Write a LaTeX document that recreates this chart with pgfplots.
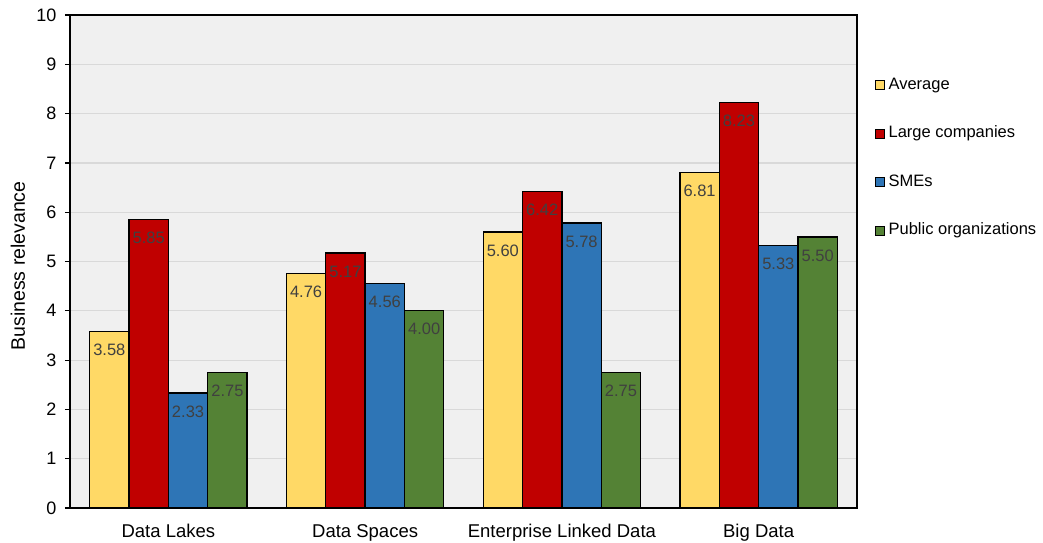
\documentclass[border=0pt]{standalone}
\usepackage{fontspec}
\setmainfont{Liberation Sans}
\usepackage{pgfplots}
\pgfplotsset{compat=1.18}

\definecolor{cAvg}{HTML}{FFD966}
\definecolor{cLarge}{HTML}{C00000}
\definecolor{cSME}{HTML}{2E75B6}
\definecolor{cPub}{HTML}{548235}
\definecolor{plotbg}{HTML}{F0F0F0}
\definecolor{gridgray}{HTML}{D9D9D9}
\definecolor{valgray}{HTML}{404040}

\pgfplotsset{
  relbar/.style={
    fill=#1, draw=black, line width=1.3pt,
    legend image code/.code={%
      \path[draw=none,fill=none] (0pt,0pt) -- (11pt,0pt);
      \draw[fill=#1,draw=black,line width=0.8pt] (0pt,-4.5pt) rectangle (9pt,4.5pt);}
  }
}

\begin{document}
\begin{tikzpicture}[font=\fontsize{16.5}{19.8}\selectfont]
\path[use as bounding box] (0,0) rectangle (1043pt,542pt);
\begin{axis}[
  at={(70pt,34pt)}, anchor=south west,
  scale only axis, width=787pt, height=493pt,
  ybar=0pt, bar width=0.2,
  xmin=-0.5, xmax=3.5, ymin=0, ymax=10,
  xtick={0,1,2,3},
  xticklabels={Data Lakes, Data Spaces, Enterprise Linked Data, Big Data},
  ytick={0,1,...,10},
  ytick pos=left, tick align=outside, major tick length=5pt,
  xtick style={draw=none},
  ytick style={line width=1.2pt, black},
  axis line style={line width=1.2pt, black},
  axis background/.style={fill=plotbg},
  ymajorgrids, grid style={gridgray, line width=1.2pt},
  /pgf/number format/assume math mode=true,
  xticklabel style={font=\fontsize{18.5}{22}\selectfont, yshift=-8pt},
  yticklabel style={font=\fontsize{18}{21.6}\selectfont, xshift=-5pt},
  ylabel={Business relevance},
  every axis y label/.style={at={(axis description cs:-0.0661,0.491)}, rotate=90, anchor=center,
    font=\fontsize{19.5}{23.4}\selectfont},
  nodes near coords={\pgfmathprintnumber[fixed,zerofill,precision=2]{\pgfplotspointmeta}},
  every node near coord/.append style={anchor=center, yshift=-18.5pt, text=valgray},
  legend cell align=left,
  legend style={draw=none, fill=none, inner sep=0pt,
    at={(axis description cs:1,0.71)}, anchor=west, xshift=18pt,
    row sep=29pt,
    nodes={text height=12pt, text depth=3.5pt, inner sep=2pt}},
]
\addplot[relbar=cAvg] coordinates {(0,3.58) (1,4.76) (2,5.60) (3,6.81)};
\addplot[relbar=cLarge] coordinates {(0,5.85) (1,5.17) (2,6.42) (3,8.23)};
\addplot[relbar=cSME] coordinates {(0,2.33) (1,4.56) (2,5.78) (3,5.33)};
\addplot[relbar=cPub] coordinates {(0,2.75) (1,4.00) (2,2.75) (3,5.50)};
\legend{Average, Large companies, SMEs, Public organizations}
\end{axis}
\end{tikzpicture}
\end{document}
